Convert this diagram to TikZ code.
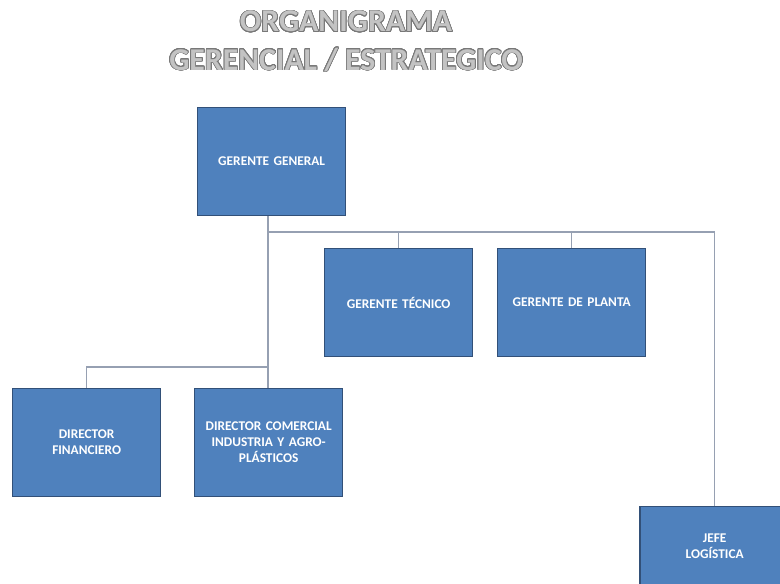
\documentclass[tikz,border=0pt]{standalone}
\usepackage{fontspec}
\setmainfont{Carlito}
\usepackage{contour}
\usetikzlibrary{calc}
\definecolor{boxfill}{RGB}{79,129,189}
\definecolor{boxline}{RGB}{50,80,120}
\definecolor{conn}{RGB}{150,160,178}
\definecolor{titlefill}{RGB}{195,195,195}
\definecolor{titleline}{RGB}{120,120,120}
\contourlength{0.55pt}
\contournumber{24}
\tikzset{
  orgbox/.style={draw=boxline, line width=1pt, fill=boxfill, minimum width=148*0.75pt, minimum height=108*0.75pt,
    inner sep=2pt, align=center, text=white, font=\bfseries\fontsize{10}{12}\selectfont, anchor=north west,
    text width=142*0.75pt},
  link/.style={draw=conn, line width=0.8pt},
  titletext/.style={font=\bfseries\fontsize{23.8}{28}\selectfont, text=titlefill}
}
\begin{document}
\begin{tikzpicture}[x=0.75pt,y=-0.75pt]
\useasboundingbox (0,0) rectangle (780,584);
\node[titletext] (t1) at (346,22) {\contour{titleline}{ORGANIGRAMA}};
\node[titletext] (t2) at (346,60) {\contour{titleline}{GERENCIAL / ESTRATEGICO}};
\node[orgbox] (gg) at (197,107) {GERENTE GENERAL};
\node[orgbox] (gt) at (324,248) {GERENTE TÉCNICO};
\node[orgbox] (gp) at (497,248) {GERENTE DE PLANTA};
\node[orgbox] (df) at (12,388) {DIRECTOR\\FINANCIERO};
\node[orgbox] (dc) at (194,388) {DIRECTOR COMERCIAL INDUSTRIA Y AGRO-\\PLÁSTICOS};
\node[orgbox, minimum height=80*0.75pt] (jl) at (640,506) {JEFE\\LOGÍSTICA};
\draw[boxline, line width=1pt] (jl.north west) -- (640,600);
\coordinate (b1) at (268,232);
\coordinate (b2) at (268,367);
\draw[link] (gg.south -| b1) -- (b1) -- (b2) -- (dc.north -| b2);
\draw[link] (b1) -| (gt.north);
\draw[link] (b1) -| (gp.north);
\draw[link] (b1) -| (jl.north);
\draw[link] (b2) -| (df.north);
\end{tikzpicture}
\end{document}
